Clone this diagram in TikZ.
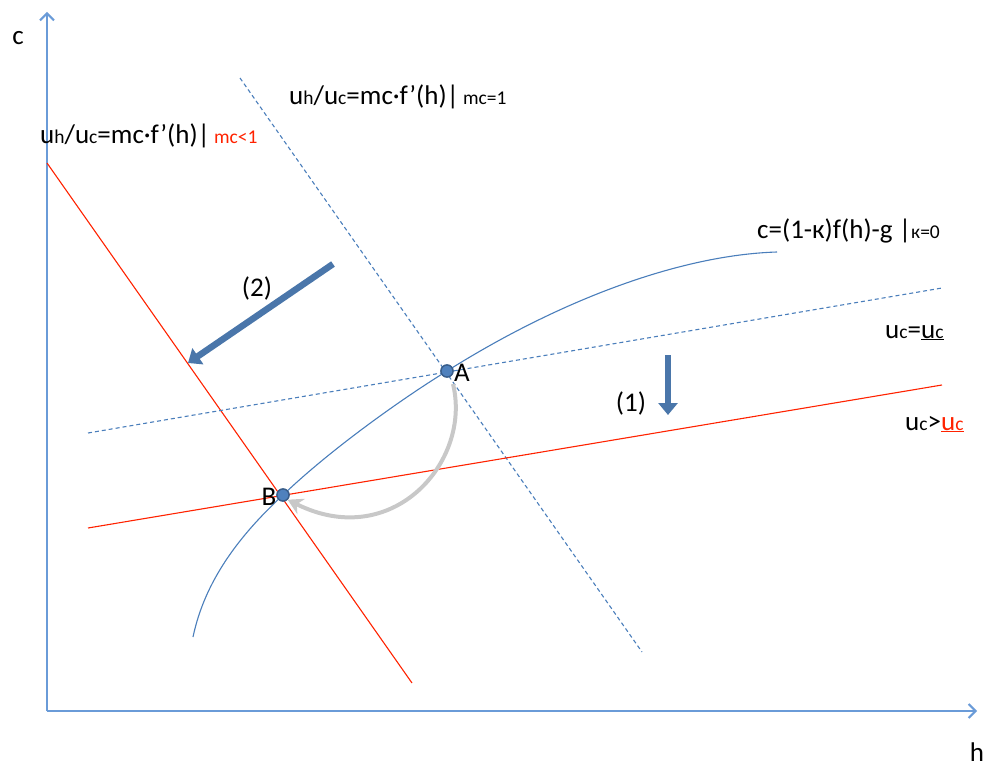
\documentclass[tikz,border=0pt]{standalone}
\usepackage{fontspec}
\setmainfont{Carlito}
\usetikzlibrary{arrows.meta}
\definecolor{axisblue}{HTML}{6A9BD8}
\definecolor{lineblue}{HTML}{4A7EBB}
\definecolor{arrowblue}{HTML}{4A76AA}
\definecolor{lred}{HTML}{FF2200}
\definecolor{lgray}{HTML}{C8C8C8}
\definecolor{dotfill}{HTML}{4F81BD}
\definecolor{dotline}{HTML}{385D8A}
\newcommand{\sm}[1]{{\fontsize{19.5}{22}\selectfont #1}}
\tikzset{
  axisline/.style={draw=axisblue, line width=1.8pt, -{Straight Barb[length=7pt,width=14pt,line width=2pt]}},
  thinblue/.style={draw=lineblue, line width=1.1pt},
  dashblue/.style={draw=lineblue, line width=1.1pt, dash pattern=on 4pt off 3pt},
  thinred/.style={draw=lred, line width=1.1pt},
  lbl/.style={font=\fontsize{27}{31}\selectfont, inner sep=0pt},
  dotpt/.style={circle, fill=dotfill, draw=dotline, line width=1.3pt, minimum size=12pt, inner sep=0pt},
  bigarrow/.style={draw=arrowblue, line width=6.5pt, -{Triangle[length=12pt,width=19pt]}},
  grayarrow/.style={draw=lgray, line width=4pt, -{Stealth[length=15pt,width=17pt]}}
}
\begin{document}
\begin{tikzpicture}[x=1pt,y=-1pt]
\useasboundingbox (0,0) rectangle (992,770);
% axes
\coordinate (O) at (47,711);
\coordinate (ytop) at (47,12);
\coordinate (xend) at (977,711);
\draw[axisline] (O) -- (ytop);
\draw[axisline] (O) -- (xend);
\node[lbl] (clabel) at (18,38) {c};
\node[lbl] (hlabel) at (977,752) {h};
% lines
\coordinate (d1a) at (240,78);
\coordinate (d1b) at (642,652);
\draw[dashblue] (d1a) -- (d1b);
\coordinate (r1a) at (47,163);
\coordinate (r1b) at (412,683);
\draw[thinred] (r1a) -- (r1b);
\coordinate (d2a) at (88,433);
\coordinate (d2b) at (942,288);
\draw[dashblue] (d2a) -- (d2b);
\coordinate (r2a) at (88,528);
\coordinate (r2b) at (942,385);
\draw[thinred] (r2a) -- (r2b);
% curve
\coordinate (cs) at (193,637);
\coordinate (ce) at (777,252);
\node[dotpt] (B) at (283,495) {};
\node[dotpt] (A) at (447,371) {};
\draw[thinblue] (cs) .. controls (205,580) and (240,535) .. (B.center)
  .. controls (330,450) and (400,400) .. (A.center)
  .. controls (560,300) and (680,255) .. (ce);
% gray arrow
\draw[grayarrow] (453,384) .. controls (472,462) and (392,552) .. (B.south east);
\node[dotpt] at (A) {};
\node[dotpt] at (B) {};
\node[lbl] (Alabel) at (462,373) {A};
\node[lbl] (Blabel) at (269,497) {B};
% big arrows
\coordinate (a2s) at (333,264);
\coordinate (a2e) at (188,363);
\draw[bigarrow] (a2s) -- (a2e);
\node[lbl] (l2) at (257,288) {(2)};
\coordinate (a1s) at (668,355);
\coordinate (a1e) at (668,415);
\draw[bigarrow] (a1s) -- (a1e);
\node[lbl] (l1) at (631,403) {(1)};
% labels
\node[lbl, anchor=base west] (toplbl) at (289,105) {u\sm{h}/u\sm{c}=mc·f’(h)|\kern4pt\sm{mc=1}};
\node[lbl, anchor=base west] (leftlbl) at (40,144) {u\sm{h}/u\sm{c}=mc·f’(h)|\kern4pt\textcolor{lred}{\sm{mc<1}}};
\node[lbl, anchor=base west] (curvelbl) at (757,238) {c=(1-к)f(h)-g |\sm{к=0}};
\node[lbl, anchor=base west] (uclbl) at (885,338) {u\sm{c}=\underline{u\sm{c}}};
\node[lbl, anchor=base west] (ucgt) at (905,430) {u\sm{c}>{\color{lred}\underline{u\sm{c}}}};
\end{tikzpicture}
\end{document}
